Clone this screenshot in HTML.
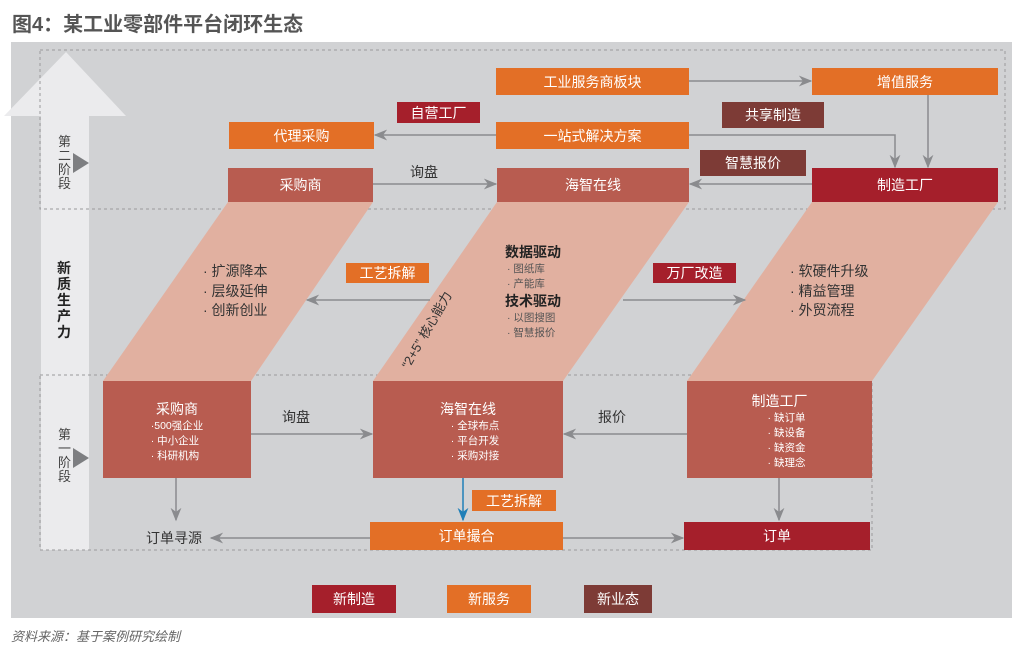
<!DOCTYPE html>
<html><head><meta charset="utf-8"><style>
body{margin:0;width:1024px;height:651px;background:#fff;position:relative;overflow:hidden;font-family:"Liberation Sans","Noto Sans CJK SC",sans-serif}
.a{position:absolute}
.b{position:absolute;color:#fff;display:flex;align-items:center;justify-content:center;font-size:14px}
.o{background:#e36f26}.r{background:#b85c50}.d{background:#a51f2b}.n{background:#7d3b36}
.t{position:absolute;color:#333;font-size:14px;line-height:20px}
.s{position:absolute;color:#555;font-size:10.5px;line-height:15px}
</style></head><body>
<div class="a" style="left:12px;top:8px;font-size:20px;font-weight:bold;color:#555">图4：某工业零部件平台闭环生态</div>
<div class="a" style="left:11px;top:42px;width:1001px;height:576px;background:#d1d2d4"></div>
<svg class="a" style="left:0;top:0" width="1024" height="651">
<defs>
<marker id="m" viewBox="0 0 10 10" refX="9" refY="5" markerWidth="9" markerHeight="9" orient="auto"><path d="M0,1 L10,5 L0,9 L3,5z" fill="#8a8b8e"/></marker>
<marker id="mb" viewBox="0 0 10 10" refX="9" refY="5" markerWidth="9" markerHeight="9" orient="auto"><path d="M0,1 L10,5 L0,9 L3,5z" fill="#1f7fb8"/></marker>
</defs>
<polygon points="66,52 126,116 89,116 89,550 41,550 41,116 4,116" fill="#ebebed"/>
<rect x="40" y="50" width="965" height="159" fill="none" stroke="#9a9a9c" stroke-dasharray="3,3"/>
<rect x="40" y="375" width="832" height="175" fill="none" stroke="#9a9a9c" stroke-dasharray="3,3"/>
<polygon points="228,202 373,202 251,381 103,381" fill="#e1b0a0"/>
<polygon points="497,202 689,202 563,381 373,381" fill="#e1b0a0"/>
<polygon points="812,202 998,202 872,381 687,381" fill="#e1b0a0"/>
<polygon points="73,153 89,163 73,173" fill="#7d7e81"/>
<polygon points="73,448 89,458 73,468" fill="#7d7e81"/>
<g stroke="#8a8b8e" stroke-width="1.5" fill="none">
<line x1="689" y1="81" x2="811" y2="81" marker-end="url(#m)"/>
<line x1="496" y1="135" x2="375" y2="135" marker-end="url(#m)"/>
<polyline points="689,135 895,135 895,167" marker-end="url(#m)"/>
<line x1="928" y1="95" x2="928" y2="167" marker-end="url(#m)"/>
<line x1="373" y1="184" x2="496" y2="184" marker-end="url(#m)"/>
<line x1="812" y1="184" x2="690" y2="184" marker-end="url(#m)"/>
<line x1="430" y1="300" x2="307" y2="300" marker-end="url(#m)"/>
<line x1="623" y1="300" x2="745" y2="300" marker-end="url(#m)"/>
<line x1="251" y1="434" x2="372" y2="434" marker-end="url(#m)"/>
<line x1="687" y1="434" x2="564" y2="434" marker-end="url(#m)"/>
<line x1="176" y1="478" x2="176" y2="520" marker-end="url(#m)"/>
<line x1="779" y1="478" x2="779" y2="520" marker-end="url(#m)"/>
<line x1="370" y1="538" x2="211" y2="538" marker-end="url(#m)"/>
<line x1="563" y1="538" x2="683" y2="538" marker-end="url(#m)"/>
<line x1="463" y1="478" x2="463" y2="520" stroke="#1f7fb8" marker-end="url(#mb)"/>
</g>
</svg>
<div class="t" style="left:58px;top:135px;width:14px;font-size:13px;line-height:14px;color:#444">第二阶段</div>
<div class="t" style="left:58px;top:428px;width:14px;font-size:13px;line-height:14px;color:#444">第一阶段</div>
<div class="t" style="left:57px;top:260px;width:15px;font-size:14px;line-height:16px;font-weight:bold;color:#222">新质生产力</div>
<div class="b o" style="left:496px;top:68px;width:193px;height:27px">工业服务商板块</div>
<div class="b o" style="left:812px;top:68px;width:186px;height:27px">增值服务</div>
<div class="b d" style="left:397px;top:102px;width:83px;height:21px">自营工厂</div>
<div class="b n" style="left:722px;top:102px;width:102px;height:26px">共享制造</div>
<div class="b o" style="left:229px;top:122px;width:145px;height:27px">代理采购</div>
<div class="b o" style="left:496px;top:122px;width:193px;height:27px">一站式解决方案</div>
<div class="b n" style="left:700px;top:150px;width:106px;height:26px">智慧报价</div>
<div class="b r" style="left:228px;top:168px;width:145px;height:34px">采购商</div>
<div class="b r" style="left:497px;top:168px;width:192px;height:34px">海智在线</div>
<div class="b d" style="left:812px;top:168px;width:186px;height:34px">制造工厂</div>
<div class="t" style="left:410px;top:162px">询盘</div>
<div class="t" style="left:203px;top:262px;line-height:19.5px">· 扩源降本<br>· 层级延伸<br>· 创新创业</div>
<div class="t" style="left:790px;top:262px;line-height:19.5px">· 软硬件升级<br>· 精益管理<br>· 外贸流程</div>
<div class="b o" style="left:346px;top:263px;width:83px;height:20px">工艺拆解</div>
<div class="b d" style="left:653px;top:263px;width:83px;height:20px">万厂改造</div>
<div class="t" style="left:505px;top:242px;font-weight:bold;color:#222">数据驱动</div>
<div class="s" style="left:507px;top:262px">· 图纸库<br>· 产能库</div>
<div class="t" style="left:505px;top:291px;font-weight:bold;color:#222">技术驱动</div>
<div class="s" style="left:507px;top:311px">· 以图搜图<br>· 智慧报价</div>
<div class="t" style="left:378px;top:310px;width:110px;font-size:13px;transform:rotate(-60deg);white-space:nowrap">“2+5” 核心能力</div>
<div class="b r" style="left:103px;top:381px;width:148px;height:97px;flex-direction:column;justify-content:flex-start"><div style="margin-top:18px">采购商</div><div style="font-size:10.5px;line-height:15px;text-align:left">·500强企业<br>· 中小企业<br>· 科研机构</div></div>
<div class="b r" style="left:373px;top:381px;width:190px;height:97px;flex-direction:column;justify-content:flex-start"><div style="margin-top:18px">海智在线</div><div style="font-size:10.5px;line-height:15px;text-align:left;margin-left:14px">· 全球布点<br>· 平台开发<br>· 采购对接</div></div>
<div class="b d" style="left:687px;top:381px;width:185px;height:97px;flex-direction:column;justify-content:flex-start;background:#b85c50"><div style="margin-top:10px">制造工厂</div><div style="font-size:10.5px;line-height:15px;text-align:left;margin-left:14px">· 缺订单<br>· 缺设备<br>· 缺资金<br>· 缺理念</div></div>
<div class="t" style="left:282px;top:407px">询盘</div>
<div class="t" style="left:598px;top:407px">报价</div>
<div class="b o" style="left:472px;top:490px;width:84px;height:21px">工艺拆解</div>
<div class="t" style="left:146px;top:528px">订单寻源</div>
<div class="b o" style="left:370px;top:522px;width:193px;height:28px">订单撮合</div>
<div class="b d" style="left:684px;top:522px;width:186px;height:28px">订单</div>
<div class="b d" style="left:312px;top:585px;width:84px;height:28px">新制造</div>
<div class="b o" style="left:447px;top:585px;width:84px;height:28px">新服务</div>
<div class="b n" style="left:584px;top:585px;width:68px;height:28px">新业态</div>
<div class="a" style="left:11px;top:626px;font-size:13px;font-style:italic;color:#666">资料来源：基于案例研究绘制</div>
</body></html>
